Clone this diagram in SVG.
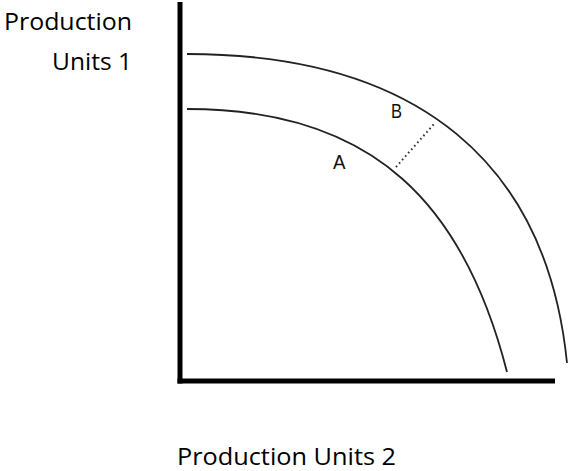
<svg xmlns="http://www.w3.org/2000/svg" width="571" height="471" viewBox="0 0 571 471">
  <style>
    .axis { stroke: #000; stroke-width: 5; fill: none; }
    .curve { stroke: #222; stroke-width: 1.8; fill: none; }
    .dots { stroke: #333; stroke-width: 2; stroke-dasharray: 1.6 3; fill: none; }
    .title { font-family: "Open Sans", "Noto Sans", sans-serif; font-size: 24px; fill: #000; }
    .lbl { font-family: "Liberation Sans", Arial, sans-serif; font-size: 21px; fill: #111; }
  </style>
  <rect width="571" height="471" fill="#fff"/>
  <g id="connectors">
    <g id="axes">
      <line class="axis" x1="180" y1="2" x2="180" y2="383.5"/>
      <line class="axis" x1="177.5" y1="381" x2="555" y2="381"/>
    </g>
    <path id="curve-A" class="curve" d="M187,109 C377,109 465,208 507,372"/>
    <path id="curve-B" class="curve" d="M187,54 C419,54 547,164 567,363"/>
    <line id="shift" class="dots" x1="396" y1="167" x2="434" y2="124"/>
  </g>
  <g id="label-A"><text class="lbl" x="333" y="169" textLength="12.5" lengthAdjust="spacingAndGlyphs">A</text></g>
  <g id="label-B"><text class="lbl" x="391" y="117.5" textLength="11" lengthAdjust="spacingAndGlyphs">B</text></g>
  <g id="y-axis-title">
    <text class="title" x="132" y="29.5" text-anchor="end" textLength="128" lengthAdjust="spacingAndGlyphs">Production</text>
    <text class="title" x="132" y="70" text-anchor="end" textLength="80" lengthAdjust="spacingAndGlyphs">Units 1</text>
  </g>
  <g id="x-axis-title">
    <text class="title" x="177" y="465" textLength="219" lengthAdjust="spacingAndGlyphs">Production Units 2</text>
  </g>
</svg>
